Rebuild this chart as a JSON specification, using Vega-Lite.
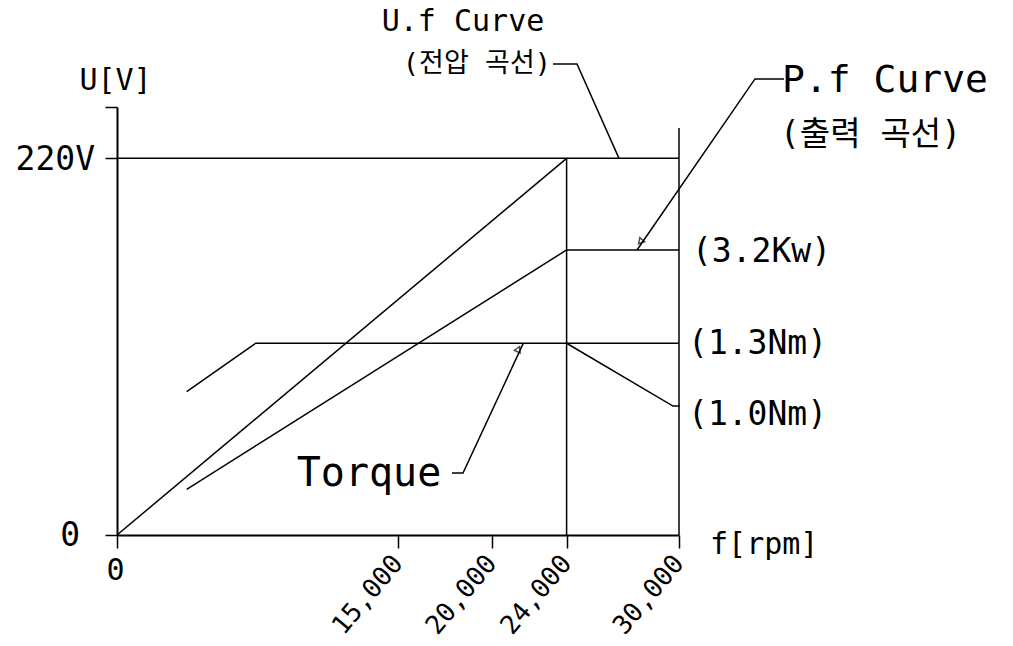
{
  "$schema": "https://vega.github.io/schema/vega-lite/v6.json",
  "width": 562,
  "height": 428,
  "autosize": {"type": "none"},
  "padding": {"left": 117, "top": 107, "right": 334, "bottom": 111},
  "background": "white",
  "config": {"view": {"stroke": null}, "font": "DejaVu Sans Mono"},
  "datasets": {
    "lines": [
      {"series": "U.f", "ord": 1, "x": 0, "y": 0},
      {"series": "U.f", "ord": 2, "x": 24000, "y": 220},
      {"series": "V220", "ord": 1, "x": 0, "y": 220},
      {"series": "V220", "ord": 2, "x": 30000, "y": 220},
      {"series": "f24000", "ord": 1, "x": 24000, "y": 0},
      {"series": "f24000", "ord": 2, "x": 24000, "y": 220},
      {"series": "f30000", "ord": 1, "x": 30000, "y": 0},
      {"series": "f30000", "ord": 2, "x": 30000, "y": 237.7},
      {"series": "P.f", "ord": 1, "x": 3721, "y": 26.7},
      {"series": "P.f", "ord": 2, "x": 24000, "y": 166.5},
      {"series": "P.f", "ord": 3, "x": 30000, "y": 166.5},
      {"series": "Torque", "ord": 1, "x": 3721, "y": 83.7},
      {"series": "Torque", "ord": 2, "x": 7404, "y": 112},
      {"series": "Torque", "ord": 3, "x": 30000, "y": 112},
      {"series": "lead U.f", "ord": 1, "x": 23274, "y": 275.1},
      {"series": "lead U.f", "ord": 2, "x": 24555, "y": 275.1},
      {"series": "lead U.f", "ord": 3, "x": 26797, "y": 220},
      {"series": "lead P.f", "ord": 1, "x": 35605, "y": 266.4},
      {"series": "lead P.f", "ord": 2, "x": 34057, "y": 266.4},
      {"series": "lead P.f", "ord": 3, "x": 27758, "y": 166.5},
      {"series": "lead Torque", "ord": 1, "x": 17883, "y": 36.2},
      {"series": "lead Torque", "ord": 2, "x": 18470, "y": 36.2},
      {"series": "lead Torque", "ord": 3, "x": 21673, "y": 111.6},
      {"series": "lead 1.0Nm", "ord": 1, "x": 24000, "y": 112},
      {"series": "lead 1.0Nm", "ord": 2, "x": 29680, "y": 75.3},
      {"series": "lead 1.0Nm", "ord": 3, "x": 30053, "y": 75.3}
    ]
  },
  "encoding": {
    "x": {
      "field": "x",
      "type": "quantitative",
      "scale": {"domain": [0, 30000], "nice": false, "zero": false},
      "axis": {
        "values": [0, 15000, 20000, 24000, 30000],
        "labels": false,
        "title": null,
        "grid": false,
        "tickSize": 13,
        "domainColor": "black",
        "tickColor": "black",
        "domainWidth": 2,
        "tickWidth": 1.5
      }
    },
    "y": {
      "field": "y",
      "type": "quantitative",
      "scale": {"domain": [0, 250], "nice": false, "zero": false},
      "axis": {
        "values": [0, 220, 250],
        "labels": false,
        "title": null,
        "grid": false,
        "tickSize": 12,
        "domainColor": "black",
        "tickColor": "black",
        "domainWidth": 2,
        "tickWidth": 1.5
      }
    }
  },
  "layer": [
    {
      "data": {"name": "lines"},
      "mark": {"type": "line", "color": "black", "strokeWidth": 1.5, "clip": false},
      "encoding": {
        "detail": {"field": "series", "type": "nominal"},
        "order": {"field": "ord", "type": "quantitative"}
      }
    },
    {
      "data": {"values": [{"x": 27972, "y": 171.7}]},
      "mark": {"type": "point", "shape": "triangle", "angle": 221, "size": 40, "filled": false, "stroke": "black", "strokeWidth": 1.5}
    },
    {
      "data": {"values": [{"x": 21406, "y": 108.1}]},
      "mark": {"type": "point", "shape": "triangle", "angle": 25, "size": 40, "filled": false, "stroke": "black", "strokeWidth": 1.5}
    },
    {
      "data": {"values": [
        {"label": "(3.2Kw)", "x": 30694, "y": 165.3},
        {"label": "(1.3Nm)", "x": 30481, "y": 111.6},
        {"label": "(1.0Nm)", "x": 30481, "y": 70.1}
      ]},
      "mark": {"type": "text", "align": "left", "baseline": "middle", "fontSize": 33, "color": "black"},
      "encoding": {"text": {"field": "label"}}
    },
    {
      "data": {"values": [
        {"label": "220V", "x": -1174, "y": 218.8},
        {"label": "0", "x": -1975, "y": -0.6}
      ]},
      "mark": {"type": "text", "align": "right", "baseline": "middle", "fontSize": 33, "color": "black"},
      "encoding": {"text": {"field": "label"}}
    },
    {
      "data": {"values": [
        {"label": "U[V]", "x": -80, "y": 265.2},
        {"label": "0", "x": -80, "y": -21.3}
      ]},
      "mark": {"type": "text", "align": "center", "baseline": "middle", "fontSize": 30, "color": "black"},
      "encoding": {"text": {"field": "label"}}
    },
    {
      "data": {"values": [{"label": "f[rpm]", "x": 31655, "y": -5.8}]},
      "mark": {"type": "text", "align": "left", "baseline": "middle", "fontSize": 30, "color": "black"},
      "encoding": {"text": {"field": "label"}}
    },
    {
      "data": {"values": [{"label": "U.f Curve", "x": 18470, "y": 299.4}]},
      "mark": {"type": "text", "align": "center", "baseline": "middle", "fontSize": 30, "color": "black"},
      "encoding": {"text": {"field": "label"}}
    },
    {
      "data": {"values": [{"label": "(전압 곡선)", "x": 23167, "y": 275.1}]},
      "mark": {"type": "text", "align": "right", "baseline": "middle", "fontSize": 27, "color": "black", "font": "DejaVu Sans Mono, Noto Sans CJK KR"},
      "encoding": {"text": {"field": "label"}}
    },
    {
      "data": {"values": [{"label": "P.f Curve", "x": 35498, "y": 265.2}]},
      "mark": {"type": "text", "align": "left", "baseline": "middle", "fontSize": 38, "color": "black"},
      "encoding": {"text": {"field": "label"}}
    },
    {
      "data": {"values": [{"label": "(출력 곡선)", "x": 35391, "y": 233.6}]},
      "mark": {"type": "text", "align": "left", "baseline": "middle", "fontSize": 33, "color": "black", "font": "DejaVu Sans Mono, Noto Sans CJK KR"},
      "encoding": {"text": {"field": "label"}}
    },
    {
      "data": {"values": [{"label": "Torque", "x": 13452, "y": 35.6}]},
      "mark": {"type": "text", "align": "center", "baseline": "middle", "fontSize": 40, "color": "black"},
      "encoding": {"text": {"field": "label"}}
    },
    {
      "data": {"values": [
        {"label": "15,000", "x": 15000, "y": -14},
        {"label": "20,000", "x": 20000, "y": -14},
        {"label": "24,000", "x": 24000, "y": -14},
        {"label": "30,000", "x": 30000, "y": -14}
      ]},
      "mark": {"type": "text", "align": "right", "baseline": "middle", "angle": 310, "fontSize": 26, "color": "black"},
      "encoding": {"text": {"field": "label"}}
    }
  ]
}
